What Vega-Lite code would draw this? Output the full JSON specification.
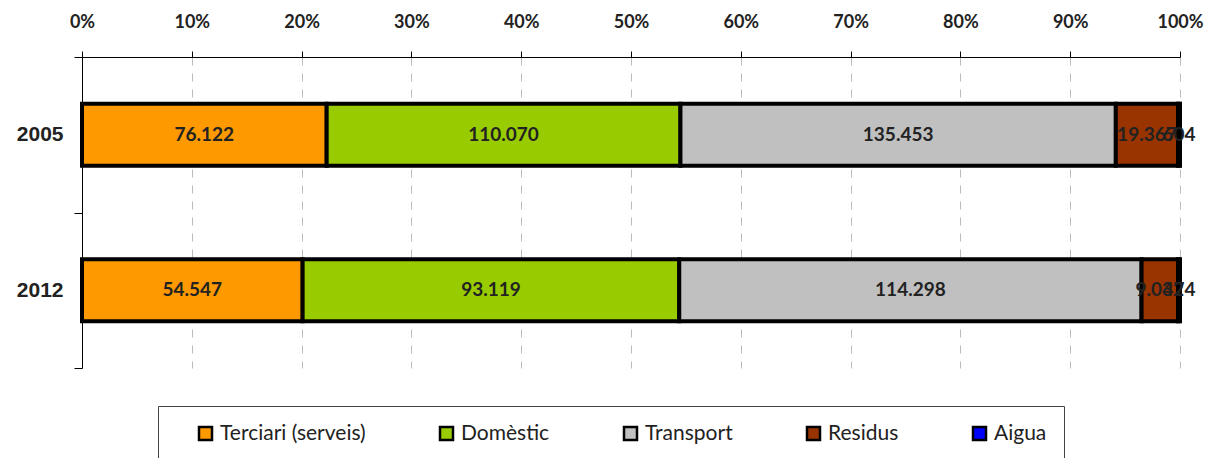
{
  "$schema": "https://vega.github.io/schema/vega-lite/v6.json",
  "width": 1098,
  "height": 311,
  "autosize": {"type": "none"},
  "padding": {"left": 82, "top": 57, "right": 31, "bottom": 90},
  "background": "white",
  "config": {
    "locale": {"number": {"decimal": ",", "thousands": ".", "grouping": [3], "currency": ["", " €"]}},
    "view": {"stroke": null},
    "font": "Lato"
  },
  "data": {
    "values": [
      {"year": "2005", "sector": "Terciari (serveis)", "idx": 1, "value": 76122},
      {"year": "2005", "sector": "Domèstic", "idx": 2, "value": 110070},
      {"year": "2005", "sector": "Transport", "idx": 3, "value": 135453},
      {"year": "2005", "sector": "Residus", "idx": 4, "value": 19367},
      {"year": "2005", "sector": "Aigua", "idx": 5, "value": 604},
      {"year": "2012", "sector": "Terciari (serveis)", "idx": 1, "value": 54547},
      {"year": "2012", "sector": "Domèstic", "idx": 2, "value": 93119},
      {"year": "2012", "sector": "Transport", "idx": 3, "value": 114298},
      {"year": "2012", "sector": "Residus", "idx": 4, "value": 9032},
      {"year": "2012", "sector": "Aigua", "idx": 5, "value": 474}
    ]
  },
  "encoding": {
    "y": {
      "field": "year", "type": "nominal", "title": null,
      "scale": {"paddingInner": 0, "paddingOuter": 0},
      "axis": {
        "tickBand": "extent", "tickSize": 8, "tickColor": "#000", "domainColor": "#000",
        "labelFontSize": 21, "labelFontWeight": "bold", "labelColor": "#222", "labelPadding": 11,
        "labelFont": "Liberation Sans"
      }
    }
  },
  "layer": [
    {
      "mark": {"type": "bar", "stroke": "#000", "strokeWidth": 4, "height": {"band": 0.4}},
      "encoding": {
        "x": {
          "field": "value", "type": "quantitative", "stack": "normalize", "title": null,
          "scale": {"domain": [0, 1]},
          "axis": {
            "orient": "top", "format": ".0%", "values": [0, 0.1, 0.2, 0.3, 0.4, 0.5, 0.6, 0.7, 0.8, 0.9, 1],
            "ticks": true, "tickSize": 6, "tickColor": "#000", "labelFlush": false,
            "domainColor": "#000", "grid": true, "gridDash": [8, 8], "gridColor": "#bbbbbb",
            "labelFontSize": 18, "labelFontWeight": "bold", "labelColor": "#222", "labelPadding": 20,
            "labelFont": "Lato"
          }
        },
        "color": {
          "field": "sector", "type": "nominal",
          "scale": {
            "domain": ["Terciari (serveis)", "Domèstic", "Transport", "Residus", "Aigua"],
            "range": ["#FF9900", "#99CC00", "#C0C0C0", "#993300", "#0000FF"]
          },
          "legend": {
            "title": null, "orient": "none", "legendX": 76, "legendY": 349,
            "direction": "horizontal", "columns": 5, "columnPadding": 50,
            "symbolType": "square", "symbolSize": 169, "symbolStrokeColor": "#000", "symbolStrokeWidth": 2.5,
            "symbolOffset": 20,
            "labelFontSize": 21, "labelFont": "Lato", "labelColor": "#222", "labelOffset": 4,
            "padding": 17, "strokeColor": "#444", "fillColor": "white"
          }
        },
        "order": {"field": "idx", "type": "quantitative"}
      }
    },
    {
      "mark": {"type": "text", "fontSize": 19, "fontWeight": "bold", "color": "#222", "font": "Lato"},
      "encoding": {
        "x": {"field": "value", "type": "quantitative", "stack": "normalize", "bandPosition": 0.5},
        "detail": {"field": "sector", "type": "nominal"},
        "order": {"field": "idx", "type": "quantitative"},
        "text": {"field": "value", "type": "quantitative", "format": ",d"}
      }
    }
  ]
}
